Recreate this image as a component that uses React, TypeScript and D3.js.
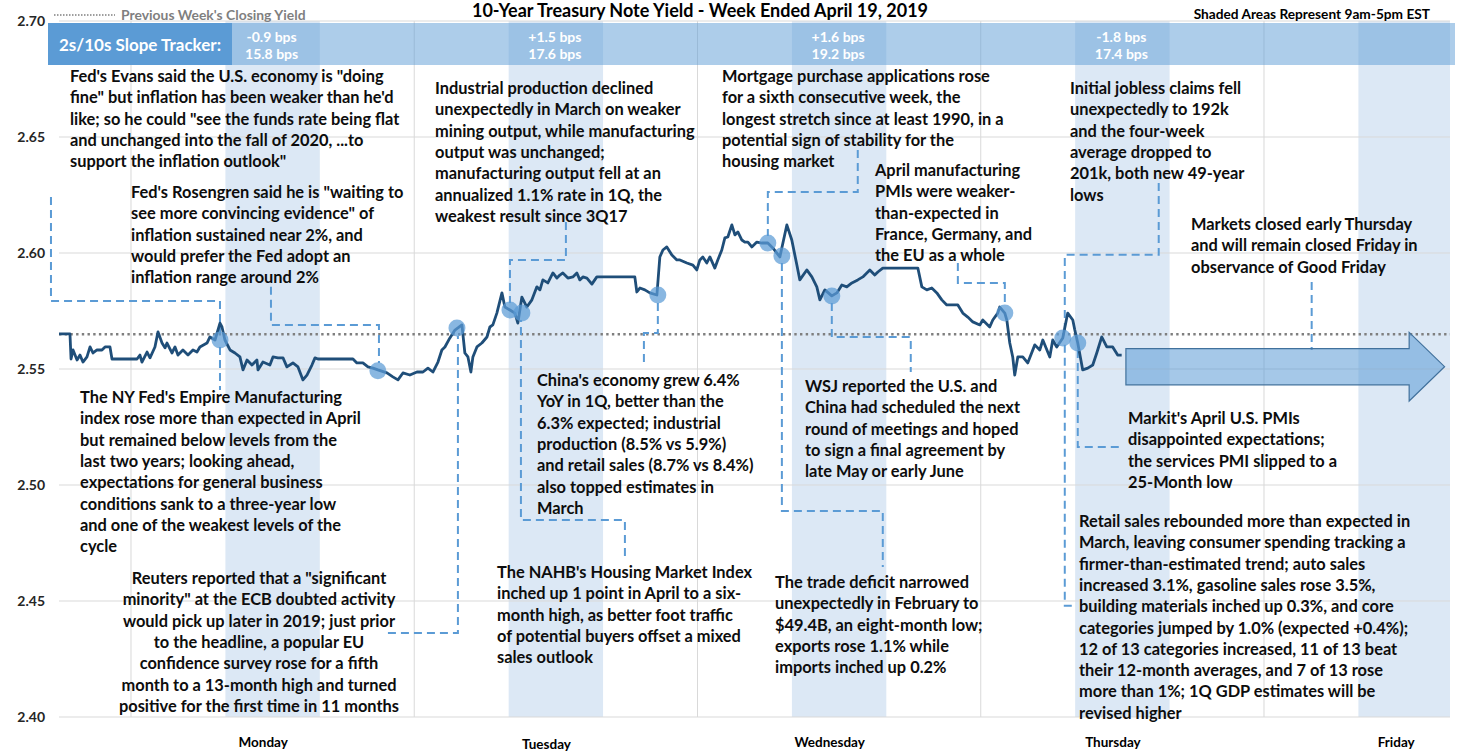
import * as d3 from "d3";
import React, { useEffect, useRef } from "react";

// yield path, [hours from Monday grid line, yield %]
const mondayPath: [number, number][] = [
    [-6.10, 2.5651], [-5.17, 2.5651], [-5.08, 2.5543], [-4.91, 2.5582], [-4.57, 2.5539], [-4.32, 2.5560], [-4.07, 2.5530],
    [-3.73, 2.5552], [-3.47, 2.5595], [-3.22, 2.5569], [-2.88, 2.5582], [-2.46, 2.5582], [-2.20, 2.5595], [-1.78, 2.5595],
    [-1.61, 2.5543], [0.51, 2.5543], [0.76, 2.5560], [0.93, 2.5530], [1.36, 2.5573], [1.61, 2.5548], [2.03, 2.5595],
    [2.29, 2.5660], [2.63, 2.5612], [2.88, 2.5591], [3.05, 2.5612], [3.47, 2.5569], [3.73, 2.5595], [3.98, 2.5560],
    [4.40, 2.5582], [4.83, 2.5560], [5.25, 2.5582], [5.59, 2.5573], [5.84, 2.5595], [6.44, 2.5612], [6.69, 2.5638],
    [7.12, 2.5625], [7.54, 2.5698], [7.71, 2.5681], [7.96, 2.5625], [8.39, 2.5582], [8.81, 2.5569], [9.23, 2.5552],
    [9.49, 2.5496], [9.83, 2.5539], [10.25, 2.5517], [10.67, 2.5539], [10.76, 2.5496], [11.18, 2.5530], [11.77, 2.5517],
    [12.03, 2.5552], [12.45, 2.5548], [12.88, 2.5548], [13.21, 2.5509], [13.72, 2.5526], [14.15, 2.5509], [14.57, 2.5453],
    [14.91, 2.5474], [15.33, 2.5517], [15.59, 2.5548], [15.84, 2.5543], [18.81, 2.5543], [19.14, 2.5526], [19.65, 2.5526],
    [20.08, 2.5509], [20.50, 2.5504], [20.92, 2.5496], [21.69, 2.5483], [22.19, 2.5466], [22.62, 2.5453], [23.04, 2.5483],
    [23.63, 2.5474]
];
const tuesdayPath: [number, number][] = [
    [24.23, 2.5487], [24.74, 2.5487], [25.16, 2.5504], [25.58, 2.5487], [26.01, 2.5530], [26.34, 2.5582], [26.60, 2.5595],
    [27.02, 2.5634], [27.45, 2.5668], [27.70, 2.5677], [28.04, 2.5690], [28.29, 2.5569], [28.55, 2.5552], [28.80, 2.5487],
    [28.97, 2.5552], [29.31, 2.5595], [29.73, 2.5612], [30.16, 2.5638], [30.41, 2.5681], [30.66, 2.5690], [31.00, 2.5741],
    [31.43, 2.5828], [31.68, 2.5767], [32.11, 2.5754], [32.53, 2.5741], [32.78, 2.5698], [33.12, 2.5810], [33.54, 2.5767],
    [33.97, 2.5798], [34.39, 2.5854], [34.65, 2.5841], [34.90, 2.5884], [35.32, 2.5871], [35.75, 2.5914], [36.09, 2.5892],
    [36.34, 2.5905], [36.59, 2.5914], [37.02, 2.5892], [37.44, 2.5897], [37.78, 2.5914], [38.03, 2.5884], [38.29, 2.5897],
    [38.63, 2.5892], [39.05, 2.5866], [39.47, 2.5897], [42.69, 2.5897], [42.86, 2.5832], [43.12, 2.5849], [43.54, 2.5841],
    [43.96, 2.5828], [44.56, 2.5819], [44.81, 2.5983], [45.07, 2.6013], [45.40, 2.6026], [45.83, 2.5991], [46.25, 2.5970],
    [46.51, 2.5970], [47.10, 2.5957], [47.61, 2.5948], [47.94, 2.5927]
];
const wednesdayPath: [number, number][] = [
    [48.20, 2.5970], [48.45, 2.5983], [48.79, 2.5957], [49.05, 2.5983], [49.47, 2.5935], [49.72, 2.5970], [50.06, 2.6013],
    [50.32, 2.6065], [50.57, 2.6069], [50.91, 2.6121], [51.17, 2.6078], [51.42, 2.6091], [51.76, 2.6056], [52.01, 2.6047],
    [52.27, 2.6047], [52.60, 2.6026], [53.03, 2.6047], [53.45, 2.6043], [53.96, 2.6043], [54.38, 2.6022], [54.98, 2.5983],
    [55.57, 2.6121], [55.99, 2.6056], [56.42, 2.5948], [56.67, 2.5884], [57.26, 2.5927], [57.69, 2.5897], [58.11, 2.5854],
    [58.37, 2.5798], [58.79, 2.5841], [59.38, 2.5815], [59.81, 2.5828], [60.23, 2.5862], [60.65, 2.5854], [61.08, 2.5871],
    [61.58, 2.5884], [62.01, 2.5897], [62.60, 2.5927], [63.02, 2.5905], [63.28, 2.5918], [63.70, 2.5935], [66.67, 2.5935],
    [67.01, 2.5854], [67.43, 2.5841], [67.85, 2.5849], [68.28, 2.5828], [68.70, 2.5798], [69.12, 2.5776], [70.06, 2.5776],
    [70.48, 2.5741], [70.90, 2.5724], [71.33, 2.5703], [71.92, 2.5690]
];
const thursdayPath: [number, number][] = [
    [72.17, 2.5711], [72.76, 2.5681], [73.02, 2.5711], [73.44, 2.5741], [73.61, 2.5767], [74.04, 2.5741], [74.21, 2.5711],
    [74.46, 2.5612], [74.71, 2.5552], [74.88, 2.5474], [75.14, 2.5552], [75.56, 2.5552], [75.98, 2.5526], [76.58, 2.5604],
    [77.00, 2.5582], [77.26, 2.5625], [77.85, 2.5552], [78.10, 2.5625], [78.44, 2.5595], [78.95, 2.5634], [79.37, 2.5741],
    [79.80, 2.5711], [79.97, 2.5668], [80.22, 2.5612], [80.64, 2.5496], [81.07, 2.5504], [81.49, 2.5517], [81.83, 2.5569],
    [82.25, 2.5638], [82.68, 2.5595], [83.18, 2.5595], [83.60, 2.5560], [83.94, 2.5560]
];

const previousClose = 2.565;
const yTicks = [2.40, 2.45, 2.50, 2.55, 2.60, 2.65, 2.70];
const dayNames = ["Monday", "Tuesday", "Wednesday", "Thursday", "Friday"];
const slopeChanges = ["-0.9 bps", "+1.5 bps", "+1.6 bps", "-1.8 bps"];
const slopeLevels = ["15.8 bps", "17.6 bps", "19.2 bps", "17.4 bps"];

// headline markers on the line
const eventPoints: [number, number][] = [
    [7.54, 2.5625], [20.92, 2.5492], [27.62, 2.5677], [32.11, 2.5754], [33.12, 2.5741], [44.64, 2.5819],
    [53.96, 2.6043], [55.15, 2.5987], [59.38, 2.5815], [74.04, 2.5741], [78.95, 2.5634], [80.22, 2.5612]
];

// dashed leaders from the notes to the markers
const connectors: [number, number][][] = [
    [[-6.78, 2.6241], [-6.78, 2.5793], [7.54, 2.5793], [7.54, 2.5655]],
    [[7.54, 2.5595], [7.54, 2.5410]],
    [[11.86, 2.5854], [11.86, 2.5690], [21.01, 2.5690], [21.01, 2.5526]],
    [[21.77, 2.4362], [27.70, 2.4362], [27.70, 2.5642]],
    [[36.85, 2.6134], [36.85, 2.5970], [32.11, 2.5970], [32.11, 2.5785]],
    [[41.85, 2.4694], [41.85, 2.4849], [33.04, 2.4849], [33.04, 2.5711]],
    [[44.64, 2.5785], [44.64, 2.5655], [43.46, 2.5655], [43.46, 2.5513]],
    [[61.58, 2.6444], [61.58, 2.6263], [53.96, 2.6263], [53.96, 2.6073]],
    [[55.15, 2.5957], [55.15, 2.4888], [63.70, 2.4888], [63.70, 2.4647]],
    [[59.38, 2.5785], [59.38, 2.5638], [66.07, 2.5638], [66.07, 2.5487]],
    [[70.06, 2.5957], [70.06, 2.5871], [74.04, 2.5871], [74.04, 2.5772]],
    [[87.08, 2.6302], [87.08, 2.5992], [79.12, 2.5992], [79.12, 2.5664]],
    [[79.12, 2.5604], [79.12, 2.4479], [80.05, 2.4479]],
    [[80.22, 2.5582], [80.22, 2.5164], [84.03, 2.5164]],
    [[100.04, 2.5875], [100.04, 2.5582]]
];

interface Note { x: number; y: number; anchor?: string; lines: string[] }

const notes: Note[] = [
    { x: 70, y: 76, lines: ["Fed's Evans said the U.S. economy is \"doing", "fine\" but inflation has been weaker than he'd", "like; so he could \"see the funds rate being flat", "and unchanged into the fall of 2020, ...to", "support the inflation outlook\""] },
    { x: 131, y: 192, lines: ["Fed's Rosengren said he is \"waiting to", "see more convincing evidence\" of", "inflation sustained near 2%, and", "would prefer the Fed adopt an", "inflation range around 2%"] },
    { x: 80, y: 397, lines: ["The NY Fed's Empire Manufacturing", "index rose more than expected in April", "but remained below levels from the", "last two years; looking ahead,", "expectations for general business", "conditions sank to a three-year low", "and one of the weakest levels of the", "cycle"] },
    { x: 259, y: 578, anchor: "middle", lines: ["Reuters reported that a \"significant", "minority\" at the ECB doubted activity", "would pick up later in 2019; just prior", "to the headline, a popular EU", "confidence survey rose for a fifth", "month to a 13-month high and turned", "positive for the first time in 11 months"] },
    { x: 435, y: 88, lines: ["Industrial production declined", "unexpectedly in March on weaker", "mining output, while manufacturing", "output was unchanged;", "manufacturing output fell at an", "annualized 1.1% rate in 1Q, the", "weakest result since 3Q17"] },
    { x: 537, y: 380, lines: ["China's economy grew 6.4%", "YoY in 1Q, better than the", "6.3% expected; industrial", "production (8.5% vs 5.9%)", "and retail sales (8.7% vs 8.4%)", "also topped estimates in", "March"] },
    { x: 497, y: 572, lines: ["The NAHB's Housing Market Index", "inched up 1 point in April to a six-", "month high, as better foot traffic", "of potential buyers offset a mixed", "sales outlook"] },
    { x: 722, y: 76, lines: ["Mortgage purchase applications rose", "for a sixth consecutive week, the", "longest stretch since at least 1990, in a", "potential sign of stability for the", "housing market"] },
    { x: 875, y: 170, lines: ["April manufacturing", "PMIs were weaker-", "than-expected in", "France, Germany, and", "the EU as a whole"] },
    { x: 805, y: 386, lines: ["WSJ reported the U.S. and", "China had scheduled the next", "round of meetings and hoped", "to sign a final agreement by", "late May or early June"] },
    { x: 775, y: 582, lines: ["The trade deficit narrowed", "unexpectedly in February to", "$49.4B, an eight-month low;", "exports rose 1.1% while", "imports inched up 0.2%"] },
    { x: 1070, y: 88, lines: ["Initial jobless claims fell", "unexpectedly to 192k", "and the four-week", "average dropped to", "201k, both new 49-year", "lows"] },
    { x: 1191, y: 224, lines: ["Markets closed early Thursday", "and will remain closed Friday in", "observance of Good Friday"] },
    { x: 1128, y: 418, lines: ["Markit's April U.S. PMIs", "disappointed expectations;", "the services PMI slipped to a", "25-Month low"] },
    { x: 1079, y: 521, lines: ["Retail sales rebounded more than expected in", "March, leaving consumer spending tracking a", "firmer-than-estimated trend; auto sales", "increased 3.1%, gasoline sales rose 3.5%,", "building materials inched up 0.3%, and core", "categories jumped by 1.0% (expected +0.4%);", "12 of 13 categories increased, 11 of 13 beat", "their 12-month averages, and 7 of 13 rose", "more than 1%; 1Q GDP estimates will be", "revised higher"] }
];

const FONT = "Lato, 'Open Sans', sans-serif";

export default function App() {
    const svgRef = useRef<SVGSVGElement>(null);

    useEffect(() => {
        const svg = d3.select(svgRef.current);
        svg.selectAll("*").remove();

        const left = 59, right = 1450, top = 21, bottom = 717;
        const hoursPerDay = 24;
        const x = d3.scaleLinear().domain([-6.1, 111.76]).range([left, right]);
        const y = d3.scaleLinear().domain([2.40, 2.70]).range([bottom, top]);

        // 9am-5pm shading
        const shades = dayNames.map((_, i) => [i * hoursPerDay + 8, i * hoursPerDay + 16]);
        svg.append("g").selectAll("rect").data(shades).enter().append("rect")
            .attr("x", d => x(d[0]))
            .attr("width", d => Math.min(x(d[1]), right) - x(d[0]))
            .attr("y", top).attr("height", bottom - top)
            .attr("fill", "#dce8f5");

        // grid
        svg.append("g").selectAll("line").data(yTicks).enter().append("line")
            .attr("x1", left).attr("x2", right)
            .attr("y1", d => y(d)).attr("y2", d => y(d))
            .attr("stroke", "#d9d9d9").attr("stroke-width", 1);
        svg.append("g").selectAll("line").data(dayNames.map((_, i) => i * hoursPerDay)).enter().append("line")
            .attr("x1", d => x(d)).attr("x2", d => x(d))
            .attr("y1", top).attr("y2", bottom)
            .attr("stroke", "#d9d9d9").attr("stroke-width", 1);

        // y labels
        svg.append("g").selectAll("text").data(yTicks).enter().append("text")
            .attr("x", 45).attr("y", d => y(d) + 5)
            .attr("text-anchor", "end")
            .style("font", `bold 14px ${FONT}`).attr("fill", "#262626")
            .text(d => d.toFixed(2));

        // day labels
        svg.append("g").selectAll("text").data(dayNames).enter().append("text")
            .attr("x", (_, i) => x(i * hoursPerDay + 11.2))
            .attr("y", (_, i) => (i === 1 ? 749 : 747))
            .attr("text-anchor", "middle")
            .style("font", `bold 13.5px ${FONT}`).attr("fill", "#000")
            .text(d => d);

        // slope tracker band
        svg.append("rect").attr("x", 48).attr("y", 23).attr("width", 1407).attr("height", 42)
            .attr("fill", "#5b9bd5").attr("opacity", 0.5);
        svg.append("rect").attr("x", 48).attr("y", 23).attr("width", 184).attr("height", 42)
            .attr("fill", "#5b9bd5");
        svg.append("text").attr("x", 140).attr("y", 51).attr("text-anchor", "middle")
            .style("font", `bold 17px ${FONT}`).attr("fill", "#fff")
            .text("2s/10s Slope Tracker:");
        const band = svg.append("g");
        band.selectAll(".chg").data(slopeChanges).enter().append("text")
            .attr("x", (_, i) => x(i * hoursPerDay + 12) - 1).attr("y", 42)
            .attr("text-anchor", "middle").style("font", `bold 14px ${FONT}`).attr("fill", "#fff")
            .text(d => d);
        band.selectAll(".lvl").data(slopeLevels).enter().append("text")
            .attr("x", (_, i) => x(i * hoursPerDay + 12) - 1).attr("y", 59)
            .attr("text-anchor", "middle").style("font", `bold 14px ${FONT}`).attr("fill", "#fff")
            .text(d => d);

        // previous week's close
        svg.append("line").attr("x1", left).attr("x2", right)
            .attr("y1", y(previousClose)).attr("y2", y(previousClose))
            .attr("stroke", "#7f7f7f").attr("stroke-width", 2.6).attr("stroke-dasharray", "2.4 3.3");

        // connectors
        const path = d3.line<[number, number]>().x(d => x(d[0])).y(d => y(d[1]));
        svg.append("g").selectAll("path").data(connectors).enter().append("path")
            .attr("d", d => path(d))
            .attr("fill", "none").attr("stroke", "#5b9bd5").attr("stroke-width", 2)
            .attr("stroke-dasharray", "8 5");

        // arrow for the holiday
        const arrowStart = 84.3, arrowNeck = 108.3, arrowTip = 111.3, arrowMid = 2.551, shaft = 0.0078, head = 0.0148;
        const arrowPts: [number, number][] = [
            [arrowStart, arrowMid + shaft], [arrowNeck, arrowMid + shaft], [arrowNeck, arrowMid + head], [arrowTip, arrowMid],
            [arrowNeck, arrowMid - head], [arrowNeck, arrowMid - shaft], [arrowStart, arrowMid - shaft]
        ];
        svg.append("path").attr("d", path(arrowPts) + "Z")
            .attr("fill", "#5b9bd5").attr("fill-opacity", 0.55)
            .attr("stroke", "#41719c").attr("stroke-width", 1.2);

        // yield line
        const series = [...mondayPath, ...tuesdayPath, ...wednesdayPath, ...thursdayPath];
        svg.append("path").attr("d", path(series))
            .attr("fill", "none").attr("stroke", "#1f4e79").attr("stroke-width", 2.8)
            .attr("stroke-linejoin", "round");

        svg.append("g").selectAll("circle").data(eventPoints).enter().append("circle")
            .attr("cx", d => x(d[0])).attr("cy", d => y(d[1])).attr("r", 8.5)
            .attr("fill", "#5b9bd5").attr("fill-opacity", 0.72);

        // notes
        const lineHeight = 21.3;
        notes.forEach(n => {
            const t = svg.append("text")
                .attr("text-anchor", n.anchor || "start")
                .style("font", `bold 16.4px ${FONT}`).attr("fill", "#0d0d0d");
            n.lines.forEach((line, i) => {
                t.append("tspan").attr("x", n.x).attr("y", n.y + 6 + i * lineHeight).text(line);
            });
        });

        // header
        svg.append("text").attr("x", 700).attr("y", 17).attr("text-anchor", "middle")
            .style("font", `bold 18px ${FONT}`).attr("fill", "#000")
            .text("10-Year Treasury Note Yield - Week Ended April 19, 2019");
        svg.append("line").attr("x1", 54).attr("x2", 115).attr("y1", 15).attr("y2", 15)
            .attr("stroke", "#7f7f7f").attr("stroke-width", 1.5).attr("stroke-dasharray", "1.5 1.5");
        svg.append("text").attr("x", 121).attr("y", 20)
            .style("font", `bold 13.9px ${FONT}`).attr("fill", "#7f7f7f")
            .text("Previous Week's Closing Yield");
        svg.append("text").attr("x", 1430).attr("y", 19).attr("text-anchor", "end")
            .style("font", `bold 13.7px ${FONT}`).attr("fill", "#000")
            .text("Shaded Areas Represent 9am-5pm EST");
    }, []);

    return (
        <svg ref={svgRef} width={1460} height={751}
            style={{ position: "absolute", left: 0, top: 0, background: "#fff" }} />
    );
}
